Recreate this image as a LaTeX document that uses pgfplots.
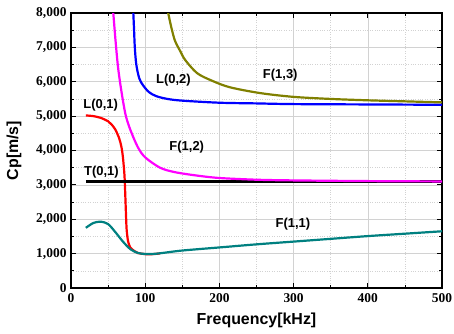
\documentclass[border=0pt]{standalone}
\usepackage{pgfplots}
\pgfplotsset{compat=1.18}
\usepackage{fontspec}
\setmainfont{Liberation Serif}
\setsansfont{Liberation Sans}
\definecolor{cOlive}{RGB}{128,128,0}
\definecolor{cTeal}{RGB}{0,128,128}
\definecolor{cMag}{RGB}{255,0,255}
\definecolor{cRed}{RGB}{255,0,0}
\definecolor{cBlue}{RGB}{0,0,255}
\begin{document}
\begin{tikzpicture}
\path[use as bounding box] (-71bp,-46bp) rectangle (383bp,288bp);
\begin{axis}[
  at={(0,0)}, anchor=south west,
  scale only axis, width=371bp, height=275bp,
  xmin=0, xmax=500, ymin=0, ymax=8000,
  xtick={0,100,...,500}, ytick={0,1000,...,8000},
  minor x tick num=1, minor y tick num=1,
  tick align=inside, major tick length=5bp, minor tick length=3bp,
  axis line style={line width=1.2bp},
  every tick/.style={black, line width=0.8bp},
  grid=both,
  major grid style={gray!35, line width=0.6bp},
  minor grid style={gray!35, dotted, line width=0.6bp},
  scaled ticks=false,
  /pgf/number format/assume math mode=true,
  /pgf/number format/1000 sep={,},
  xticklabel={\pgfmathprintnumber[assume math mode=true,1000 sep={,}]{\tick}},
  yticklabel={\pgfmathprintnumber[assume math mode=true,1000 sep={,}]{\tick}},
  tick label style={font=\fontsize{13.5}{15}\selectfont\rmfamily\bfseries},
  xticklabel style={yshift=-2bp},
  yticklabel style={xshift=-1bp},
  xlabel={Frequency[kHz]}, ylabel={Cp[m/s]},
  label style={font=\fontsize{16}{18}\selectfont\sffamily\bfseries},
  xlabel style={yshift=-4bp},
  ylabel style={yshift=8bp},
  every axis plot/.append style={line width=2.2bp, no markers, smooth},
  clip=true,
]
\addplot[cRed] coordinates {(20,5020)(30,5000)(40,4950)(50,4850)(55,4750)(60,4600)(65,4350)(68,4100)(70,3800)(72,3300)(73,2800)(74,2200)(75,1700)(77,1350)(80,1180)(85,1080)(90,1020)(100,985)(110,985)(120,1005)};
\addplot[cTeal] coordinates {(20,1750)(30,1890)(40,1930)(50,1860)(60,1620)(70,1350)(80,1130)(90,1020)(100,990)(110,990)(120,1010)(150,1090)(200,1180)(250,1270)(300,1350)(350,1430)(400,1510)(450,1580)(500,1650)};
\addplot[black, sharp plot] coordinates {(20,3100)(500,3100)};
\addplot[cMag] coordinates {(57,8000)(60,7200)(63,6500)(66,6000)(70,5450)(74,5000)(80,4600)(90,4100)(100,3800)(120,3500)(140,3370)(170,3270)(200,3200)(250,3150)(300,3130)(400,3110)(500,3100)};
\addplot[cBlue] coordinates {(84,8000)(85,7500)(86,7000)(88,6500)(92,6100)(97,5900)(105,5700)(115,5580)(130,5500)(150,5450)(200,5390)(250,5370)(300,5350)(400,5340)(500,5330)};
\addplot[cOlive] coordinates {(131,8000)(135,7600)(140,7200)(147,6900)(154,6630)(170,6250)(190,6030)(214,5840)(255,5670)(300,5560)(350,5500)(400,5460)(450,5430)(500,5400)};
\begin{scope}[every node/.style={font=\fontsize{13}{15}\selectfont\sffamily\bfseries}]
\node at (axis cs:40,5330) {L(0,1)};
\node at (axis cs:138,6050) {L(0,2)};
\node at (axis cs:282,6190) {F(1,3)};
\node at (axis cs:156,4100) {F(1,2)};
\node at (axis cs:41,3370) {T(0,1)};
\node at (axis cs:299,1860) {F(1,1)};
\end{scope}
\end{axis}
\end{tikzpicture}
\end{document}
